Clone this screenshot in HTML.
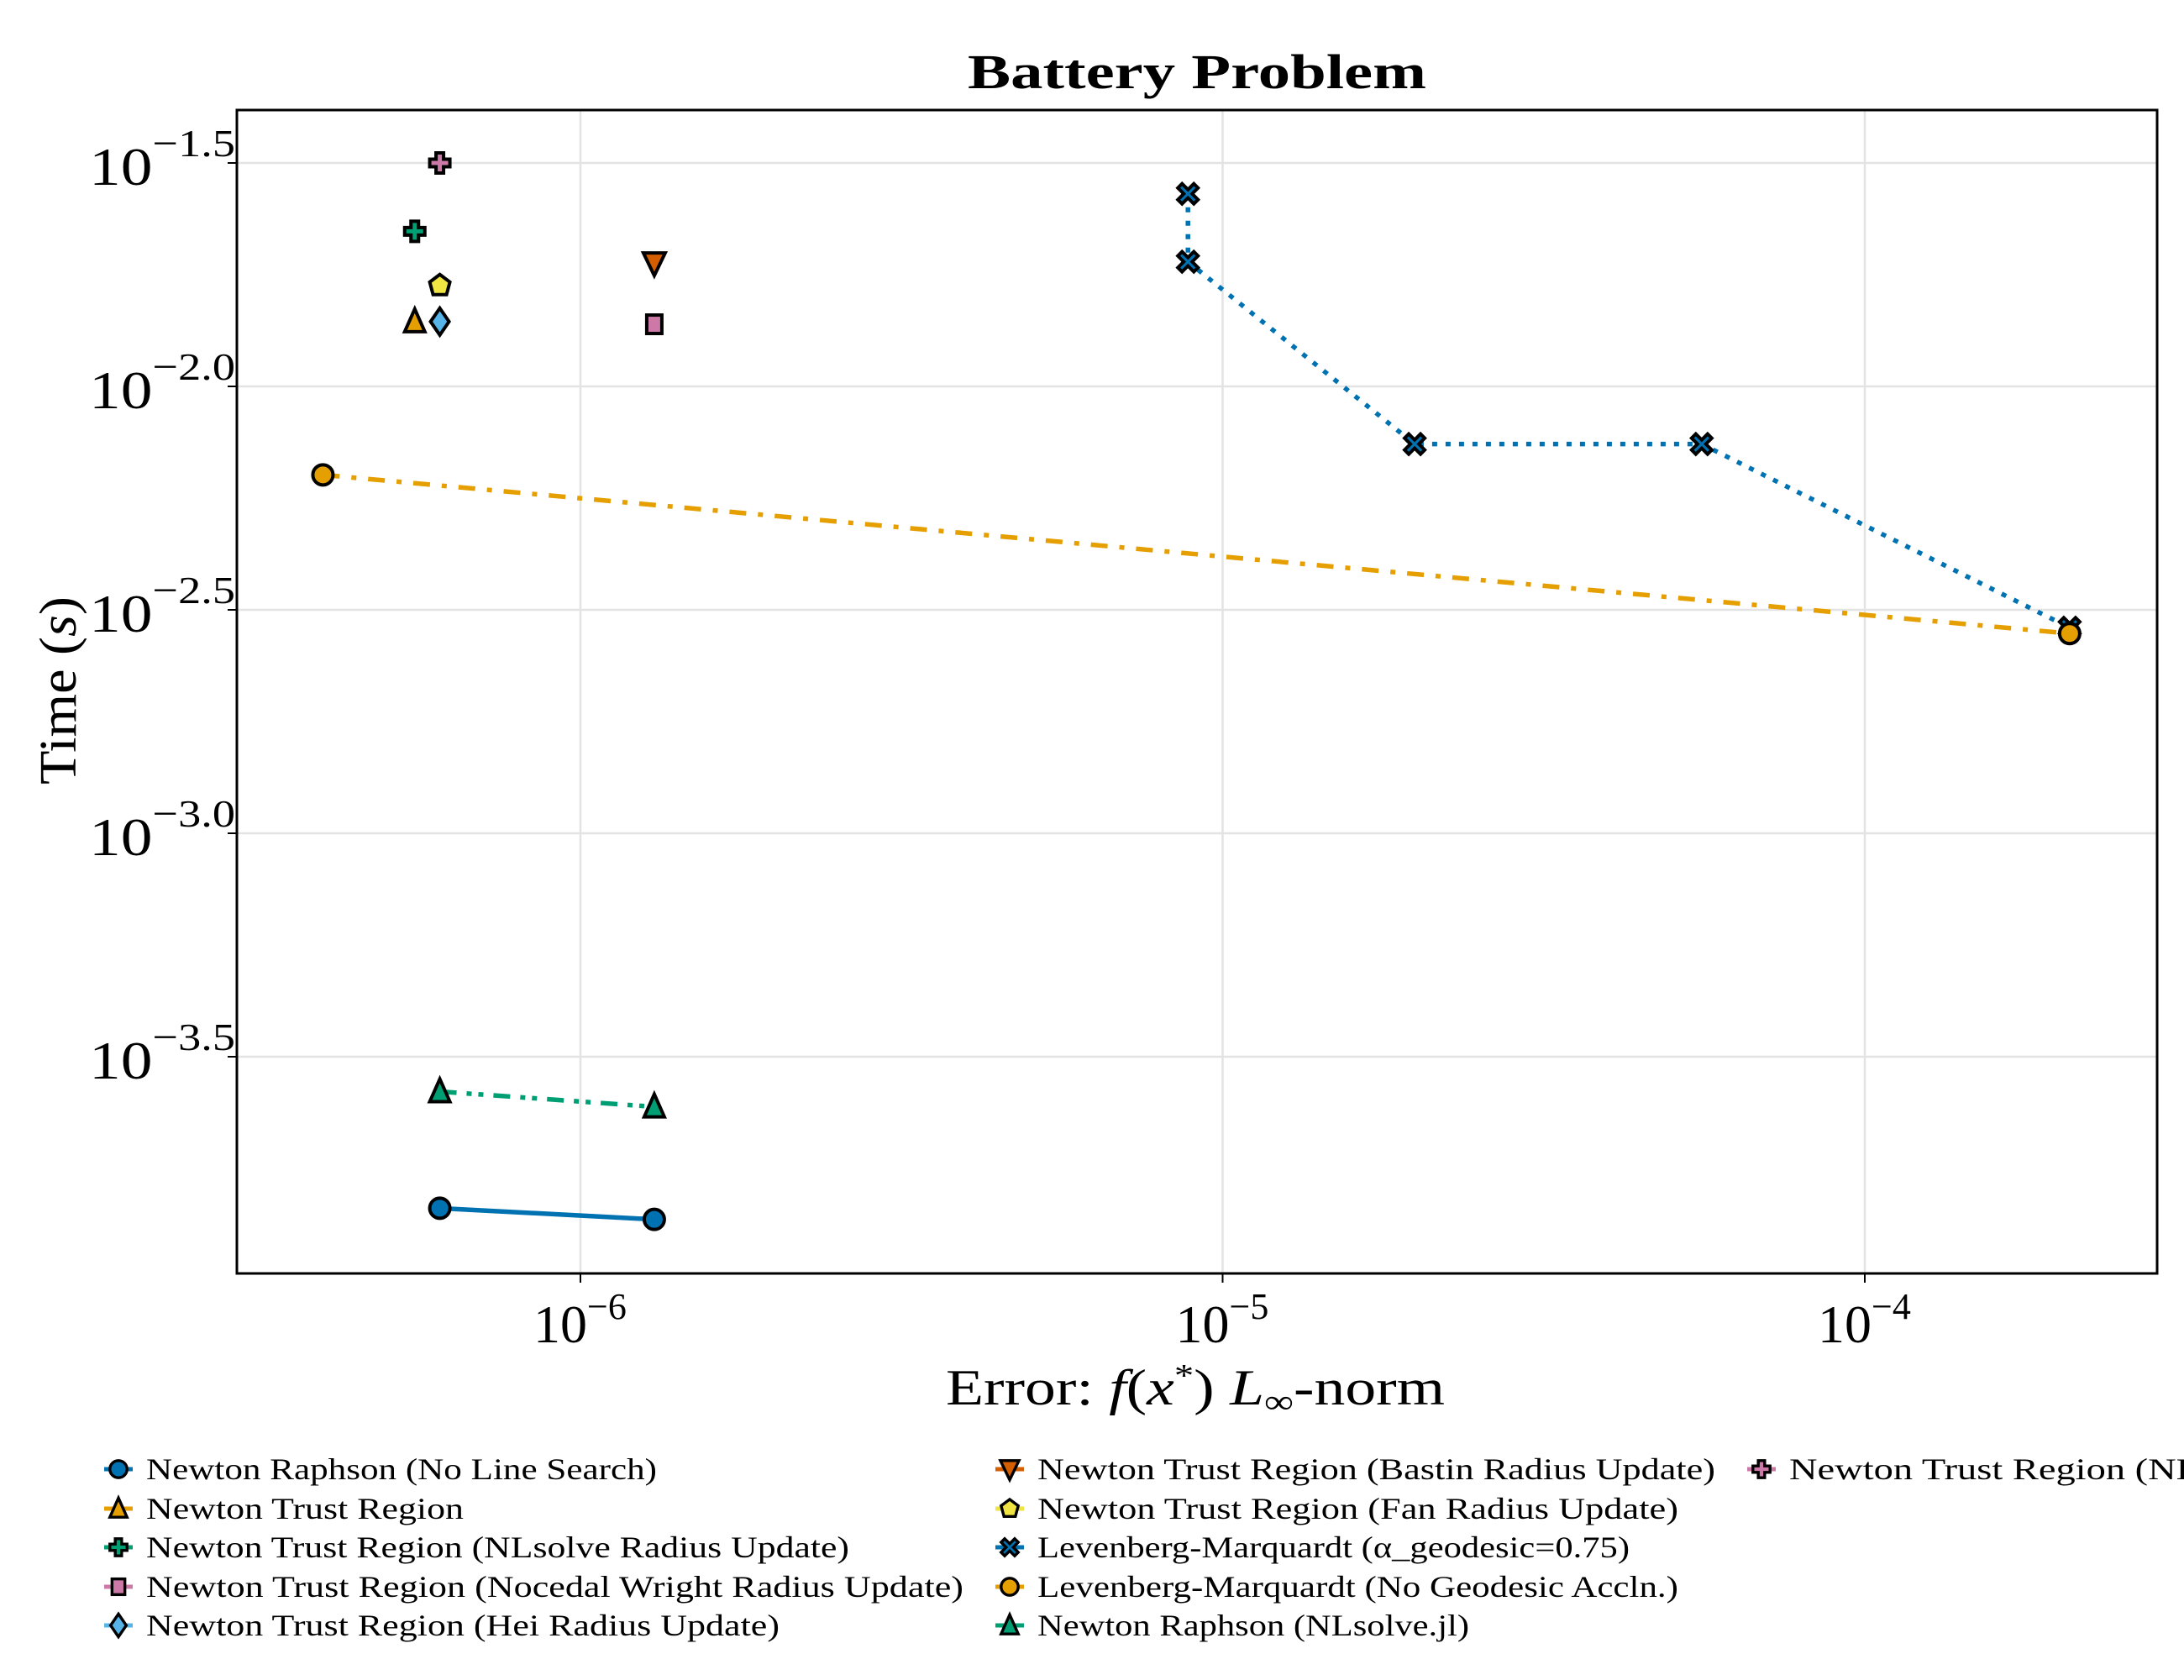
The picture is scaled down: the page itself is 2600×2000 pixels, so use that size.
<!DOCTYPE html>
<html><head><meta charset="utf-8"><style>
html,body{margin:0;padding:0;background:#fff}
svg{display:block;font-family:"Liberation Serif","DejaVu Serif",serif}
</style></head><body>
<svg id="chart" width="2600" height="2000" viewBox="0 0 2600 2000">
<text x="1152" y="105" font-size="58" font-weight="bold" textLength="546" lengthAdjust="spacingAndGlyphs">Battery Problem</text>
<g id="grid"></g>
<g id="series"></g>
<rect x="282" y="131" width="2286" height="1385" fill="none" stroke="#000" stroke-width="3"/>
<g id="axes"></g>
<text x="1126" y="1672" font-size="60" textLength="594" lengthAdjust="spacingAndGlyphs">Error: <tspan font-style="italic">f</tspan>(<tspan font-style="italic">x</tspan><tspan dy="-22" font-size="38">*</tspan><tspan dy="22">)  </tspan><tspan font-style="italic">L</tspan><tspan dy="10" font-size="40">∞</tspan><tspan dy="-10">-norm</tspan></text>
<text transform="translate(90,822) rotate(-90)" font-size="62" text-anchor="middle" textLength="224" lengthAdjust="spacingAndGlyphs">Time (<tspan font-style="italic">s</tspan>)</text>
<g id="legend"></g>
</svg>
<script>
const xTicks=[-6,-5,-4];
const yTicks=[-1.5,-2.0,-2.5,-3.0,-3.5];
const yTickLabels=["−1.5","−2.0","−2.5","−3.0","−3.5"];
const xTickLabels=["−6","−5","−4"];
const seriesNames=["Newton Raphson (No Line Search)","Newton Trust Region","Newton Trust Region (NLsolve Radius Update)","Newton Trust Region (Nocedal Wright Radius Update)","Newton Trust Region (Hei Radius Update)","Newton Trust Region (Bastin Radius Update)","Newton Trust Region (Fan Radius Update)","Levenberg-Marquardt (α_geodesic=0.75)","Levenberg-Marquardt (No Geodesic Accln.)","Newton Raphson (NLsolve.jl)","Newton Trust Region (NLsolve.jl)"];
const s0x=[-6.219,-5.885], s0y=[-3.839,-3.864];
const s1x=[-6.258], s1y=[-1.855];
const s2x=[-6.258], s2y=[-1.653];
const s3x=[-5.885], s3y=[-1.861];
const s4x=[-6.219], s4y=[-1.855];
const s5x=[-5.885], s5y=[-1.724];
const s6x=[-6.219], s6y=[-1.774];
const s7x=[-5.054,-5.054,-4.701,-4.254,-3.681], s7y=[-1.569,-1.721,-2.129,-2.129,-2.540];
const s8x=[-6.401,-3.681], s8y=[-2.198,-2.553];
const s9x=[-6.219,-5.885], s9y=[-3.578,-3.612];
const s10x=[-6.219], s10y=[-1.500];
const X=[s0x,s1x,s2x,s3x,s4x,s5x,s6x,s7x,s8x,s9x,s10x];
const Y=[s0y,s1y,s2y,s3y,s4y,s5y,s6y,s7y,s8y,s9y,s10y];
const colors=["#0072b2","#e69f00","#009e73","#cc79a7","#56b4e9","#d55e00","#f0e442","#0072b2","#e69f00","#009e73","#cc79a7"];
const markers=["circle","utri","cross","rect","diamond","dtri","pent","xcross","circle","utri","cross"];
const dashes=[null,null,null,null,null,null,null,"6 10","20 14 6 14","20 12 6 8 6 12",null];
const NS="http://www.w3.org/2000/svg";
function sx(v){return 691+(v+6)*764.5;}
function sy(v){return 194+(-1.5-v)*532;}
function mk(tag,attrs,parent){const e=document.createElementNS(NS,tag);for(const k in attrs)e.setAttribute(k,attrs[k]);parent.appendChild(e);return e;}
const grid=document.getElementById('grid'),axes=document.getElementById('axes'),ser=document.getElementById('series'),leg=document.getElementById('legend');
xTicks.forEach((t,i)=>{const x=sx(t);
 const g=mk('line',{x1:x,x2:x,y1:131,y2:1516,stroke:'#e3e3e3','stroke-width':2.5},grid);
 
 
 const tk=mk('line',{x1:x,x2:x,y1:1516,y2:1527,stroke:'#000','stroke-width':2},axes);
 
 
 const tx=mk('text',{x:x-56,y:1598,'font-size':64},axes);
 
 
 tx.innerHTML='10<tspan dy="-28" font-size="44">'+xTickLabels[i]+'</tspan>';
});
yTicks.forEach((t,i)=>{const y=sy(t);
 const g=mk('line',{x1:282,x2:2568,y1:y,y2:y,stroke:'#e3e3e3','stroke-width':2.5},grid);
 
 
 const tk=mk('line',{x1:271,x2:282,y1:y,y2:y,stroke:'#000','stroke-width':2},axes);
 
 
 const tx=mk('text',{x:106,y:y+26,'font-size':64,textLength:174,lengthAdjust:'spacingAndGlyphs'},axes);
 
 
 tx.innerHTML='10<tspan dy="-34" font-size="46">'+yTickLabels[i]+'</tspan>';
});
function marker(type,x,y,fill,parent,s){
 s=s||1;const r=12*s;let e;const st={fill:fill,stroke:'#000','stroke-width':4*s,'stroke-linejoin':'miter'};
 if(type==='circle'){e=mk('circle',Object.assign({cx:x,cy:y,r:r},st),parent);}
 else if(type==='rect'){e=mk('rect',Object.assign({x:x-9*s,y:y-11*s,width:18*s,height:22*s},st),parent);}
 else{let p;
  if(type==='utri')p=[[0,-15],[12,12],[-12,12]];
  else if(type==='dtri')p=[[-13,-12],[13,-12],[0,15]];
  else if(type==='diamond')p=[[0,-16],[11,0],[0,16],[-11,0]];
  else if(type==='pent')p=[[0,-13],[12,-4],[8,11],[-8,11],[-12,-4]];
  else if(type==='cross'){const a=4.5,b=12;p=[[-a,-b],[a,-b],[a,-a],[b,-a],[b,a],[a,a],[a,b],[-a,b],[-a,a],[-b,a],[-b,-a],[-a,-a]];}
  else if(type==='xcross'){const a=5,b=12;p=[[0,-a],[b-a,-b],[b,-b+a],[a,0],[b,b-a],[b-a,b],[0,a],[-b+a,b],[-b,b-a],[-a,0],[-b,-b+a],[-b+a,-b]];}
  e=mk('polygon',Object.assign({points:p.map(q=>(x+q[0]*s)+','+(y+q[1]*s)).join(' ')},st),parent);}
 return e;
}
X.forEach((xs,i)=>{
 if(xs.length>1){const pl=mk('polyline',{points:xs.map((v,j)=>sx(v)+','+sy(Y[i][j])).join(' '),fill:'none',stroke:colors[i],'stroke-width':5.5},ser);
  if(dashes[i])pl.setAttribute('stroke-dasharray',dashes[i]);
  
  }
});
X.forEach((xs,i)=>{xs.forEach((v,j)=>{const m=marker(markers[i],sx(v),sy(Y[i][j]),colors[i],ser,1);
 
 });});
const lx=[141,141,141,141,141,1202,1202,1202,1202,1202,2097];
const ly=[1749,1796,1842,1889,1935,1749,1796,1842,1889,1935,1749];
const lw=[608,378,837,973,754,807,763,705,763,514,640];
seriesNames.forEach((n,i)=>{
 const g=mk('g',{},leg);
 
 
 mk('line',{x1:lx[i]-17,x2:lx[i]+17,y1:ly[i],y2:ly[i],stroke:colors[i],'stroke-width':5},g);
 marker(markers[i],lx[i],ly[i],colors[i],g,0.85);
 const t=mk('text',{x:lx[i]+33,y:ly[i]+12,'font-size':36,textLength:lw[i],lengthAdjust:'spacingAndGlyphs'},g);
 t.textContent=n;
});
</script>
</body></html>
